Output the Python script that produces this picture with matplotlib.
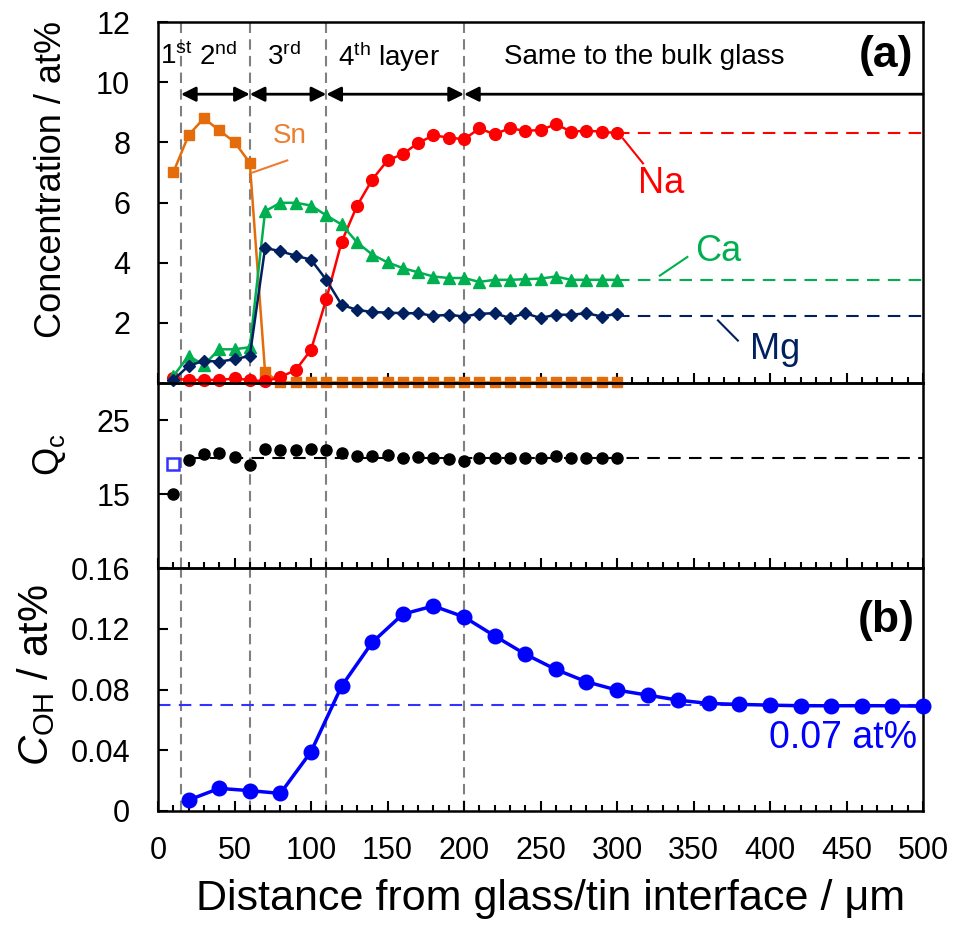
"""Depth profiles of float glass near the tin side: composition, Qc and OH content."""

import matplotlib
matplotlib.use("Agg")
import matplotlib.pyplot as plt

plt.rcParams["font.family"] = ["Liberation Sans", "DejaVu Sans"]
plt.rcParams["mathtext.fontset"] = "custom"
plt.rcParams["mathtext.rm"] = "Liberation Sans"
plt.rcParams["mathtext.it"] = "Liberation Sans:italic"
plt.rcParams["mathtext.bf"] = "Liberation Sans:bold"

# --- data -------------------------------------------------------------
depth = [10, 20, 30, 40, 50, 60, 70, 80, 90, 100, 110, 120, 130, 140, 150,
         160, 170, 180, 190, 200, 210, 220, 230, 240, 250, 260, 270, 280, 290, 300]
na = [0.15, 0.1, 0.1, 0.1, 0.15, 0.1, 0.05, 0.2, 0.43, 1.1, 2.79, 4.69, 5.88, 6.76, 7.4,
      7.61, 7.98, 8.23, 8.16, 8.1, 8.46, 8.27, 8.47, 8.38, 8.41, 8.6, 8.36, 8.38, 8.36, 8.3]
ca = [0.23, 0.9, 0.6, 1.12, 1.12, 1.19, 5.71, 5.99, 5.99, 5.9, 5.57, 5.27, 4.68, 4.27, 4.01,
      3.82, 3.68, 3.54, 3.49, 3.49, 3.36, 3.43, 3.43, 3.45, 3.47, 3.54, 3.43, 3.43, 3.43, 3.43]
mg = [0.1, 0.57, 0.74, 0.71, 0.79, 0.9, 4.49, 4.38, 4.23, 4.1, 3.43, 2.6, 2.43, 2.36, 2.34,
      2.32, 2.32, 2.23, 2.27, 2.21, 2.3, 2.32, 2.16, 2.32, 2.16, 2.27, 2.27, 2.32, 2.21, 2.3]
sn = [7.0, 8.24, 8.8, 8.4, 8.01, 7.32, 0.35, 0.02, 0.02, 0.02, 0.02, 0.02, 0.02, 0.02, 0.02,
      0.02, 0.02, 0.02, 0.02, 0.02, 0.02, 0.02, 0.02, 0.02, 0.02, 0.02, 0.02, 0.02, 0.02, 0.02]
bulk = {"Na": 8.3, "Ca": 3.43, "Mg": 2.23}

qc = [15.0, 19.6, 20.4, 20.6, 20.0, 18.9, 21.1, 20.9, 20.9, 21.1, 20.9, 20.5, 20.2, 20.2, 20.3,
      19.8, 20.0, 19.8, 19.7, 19.5, 19.8, 19.8, 19.8, 19.9, 19.8, 20.1, 19.8, 19.9, 19.8, 19.9]
qc_bulk = 19.8
qc_open = (10, 19.1)

oh_depth = [20, 40, 60, 80, 100, 120, 140, 160, 180, 200, 220, 240, 260,
            280, 300, 320, 340, 360, 380, 400, 420, 440, 460, 480, 500]
oh = [0.0072, 0.0149, 0.0134, 0.0116, 0.039, 0.0822, 0.111, 0.1296, 0.135, 0.1278, 0.1153,
      0.1033, 0.0932, 0.0851, 0.0796, 0.0763, 0.073, 0.0708, 0.0702, 0.0697, 0.0693,
      0.0693, 0.0693, 0.0693, 0.069]
oh_bulk = 0.07

boundaries = [15, 60, 110, 200]
layer_names = ["1$^{\\mathrm{st}}$", "2$^{\\mathrm{nd}}$", "3$^{\\mathrm{rd}}$",
               "4$^{\\mathrm{th}}$ layer", "Same to the bulk glass"]
layer_x = [12, 39, 82, 151, 318]

RED, GREEN, NAVY, ORANGE, BLUE = "#ff0000", "#00b050", "#002060", "#e46c0a", "#0000ff"
SN_TEXT = "#ed7d31"

# --- figure -----------------------------------------------------------
fig = plt.figure(figsize=(9.56, 9.31), dpi=100)
left, width = 158 / 956, 765 / 956
ax1 = fig.add_axes([left, 1 - 383 / 931, width, 361 / 931])
ax2 = fig.add_axes([left, 1 - 568 / 931, width, 185 / 931], facecolor="none")
ax3 = fig.add_axes([left, 1 - 811 / 931, width, 243 / 931], facecolor="none")

for ax in (ax1, ax2, ax3):
    ax.set_xlim(0, 500)
    ax.set_xticks(range(0, 501, 50))
    ax.set_xticks(range(0, 501, 10), minor=True)
    ax.tick_params(axis="x", which="major", direction="in", length=7, width=1.5,
                   labelsize=22, pad=18)
    ax.tick_params(axis="x", which="minor", direction="in", length=4, width=1.5)
    ax.tick_params(axis="y", direction="in", length=7, width=1.5, labelsize=22, pad=20)
    for sp in ax.spines.values():
        sp.set_linewidth(1.8)
    for b in boundaries:
        ax.axvline(b, color="#808080", lw=1.5, ls=(0, (5, 3)), zorder=1)
for ax in (ax1, ax2):
    ax.tick_params(axis="x", labelbottom=False)

# top panel: concentrations
ax1.set_ylim(0, 12)
ax1.set_yticks([2, 4, 6, 8, 10, 12])
ax1.plot(depth, sn, color=ORANGE, marker="s", ms=6.5, lw=1.8, clip_on=False, zorder=2)
ax1.plot(depth, na, color=RED, marker="o", ms=8.5, lw=1.8, clip_on=False, zorder=3)
ax1.plot(depth, ca, color=GREEN, marker="^", ms=8, lw=1.8, clip_on=False, zorder=3)
ax1.plot(depth, mg, color=NAVY, marker="D", ms=6.5, lw=1.8, clip_on=False, zorder=3)
for key, col in (("Na", RED), ("Ca", GREEN), ("Mg", NAVY)):
    ax1.plot([300, 500], [bulk[key]] * 2, color=col, lw=1.5, ls=(0, (6, 4)))

ax1.plot([62, 84.5], [7.0, 7.4], color=SN_TEXT, lw=1.5)
ax1.text(86, 8.2, "Sn", color=SN_TEXT, fontsize=20, ha="center", va="center")
ax1.plot([304, 317], [8.12, 7.3], color=RED, lw=1.5)
ax1.text(329, 6.63, "Na", color=RED, fontsize=26, ha="center", va="center")
ax1.plot([328, 346], [3.57, 4.19], color=GREEN, lw=1.5)
ax1.text(366, 4.37, "Ca", color=GREEN, fontsize=26, ha="center", va="center")
ax1.plot([366, 379], [2.08, 1.41], color=NAVY, lw=1.5)
ax1.text(403, 1.1, "Mg", color=NAVY, fontsize=26, ha="center", va="center")

arrow = dict(arrowstyle="<|-|>", color="black", lw=2, mutation_scale=22, shrinkA=0, shrinkB=0)
for a, b in zip(boundaries[:-1], boundaries[1:]):
    ax1.annotate("", xy=(a, 9.6), xytext=(b, 9.6), arrowprops=arrow)
ax1.annotate("", xy=(200, 9.6), xytext=(500, 9.6),
             arrowprops=dict(arrow, arrowstyle="-|>"))
for name, xpos in zip(layer_names, layer_x):
    ax1.text(xpos, 10.85, name, fontsize=20, ha="center", va="center")
ax1.text(476, 10.9, "(a)", fontsize=32, fontweight="bold", ha="center", va="center")

# middle panel: Qc
ax2.set_ylim(5, 30)
ax2.set_yticks([15, 25])
ax2.plot([20, 500], [qc_bulk] * 2, color="black", lw=1.5, ls=(0, (6, 4)), zorder=2)
ax2.plot(depth, qc, ls="none", marker="o", ms=8, color="black", zorder=3)
ax2.plot(*qc_open, ls="none", marker="s", ms=8, mfc="none", mec="#3333ff", mew=1.8)

# bottom panel: OH content
ax3.set_ylim(0, 0.16)
ax3.set_yticks([0, 0.04, 0.08, 0.12, 0.16])
ax3.set_yticklabels(["0", "0.04", "0.08", "0.12", "0.16"])
ax3.axhline(oh_bulk, color="#3333ff", lw=1.5, ls=(0, (6, 4)), zorder=2)
ax3.plot(oh_depth, oh, color=BLUE, marker="o", ms=10.5, lw=2.5, clip_on=False, zorder=3)
ax3.text(448, 0.048, "0.07 at%", color=BLUE, fontsize=27, ha="center", va="center")
ax3.text(476, 0.1257, "(b)", fontsize=32, fontweight="bold", ha="center", va="center")
ax3.set_xlabel("Distance from glass/tin interface / μm", fontsize=31)
ax3.xaxis.set_label_coords(0.513, -0.28)

fig.text(52 / 956, 1 - 180 / 931, "Concentration / at%", fontsize=26,
         rotation=90, ha="center", va="center")
fig.text(50 / 956, 1 - 455 / 931, "$\\mathrm{Q_c}$", fontsize=26,
         rotation=90, ha="center", va="center")
fig.text(36 / 956, 1 - 675 / 931, "$C_{\\mathrm{OH}}$ / at%", fontsize=30,
         rotation=90, ha="center", va="center")

fig.savefig("out.png", dpi=100)
